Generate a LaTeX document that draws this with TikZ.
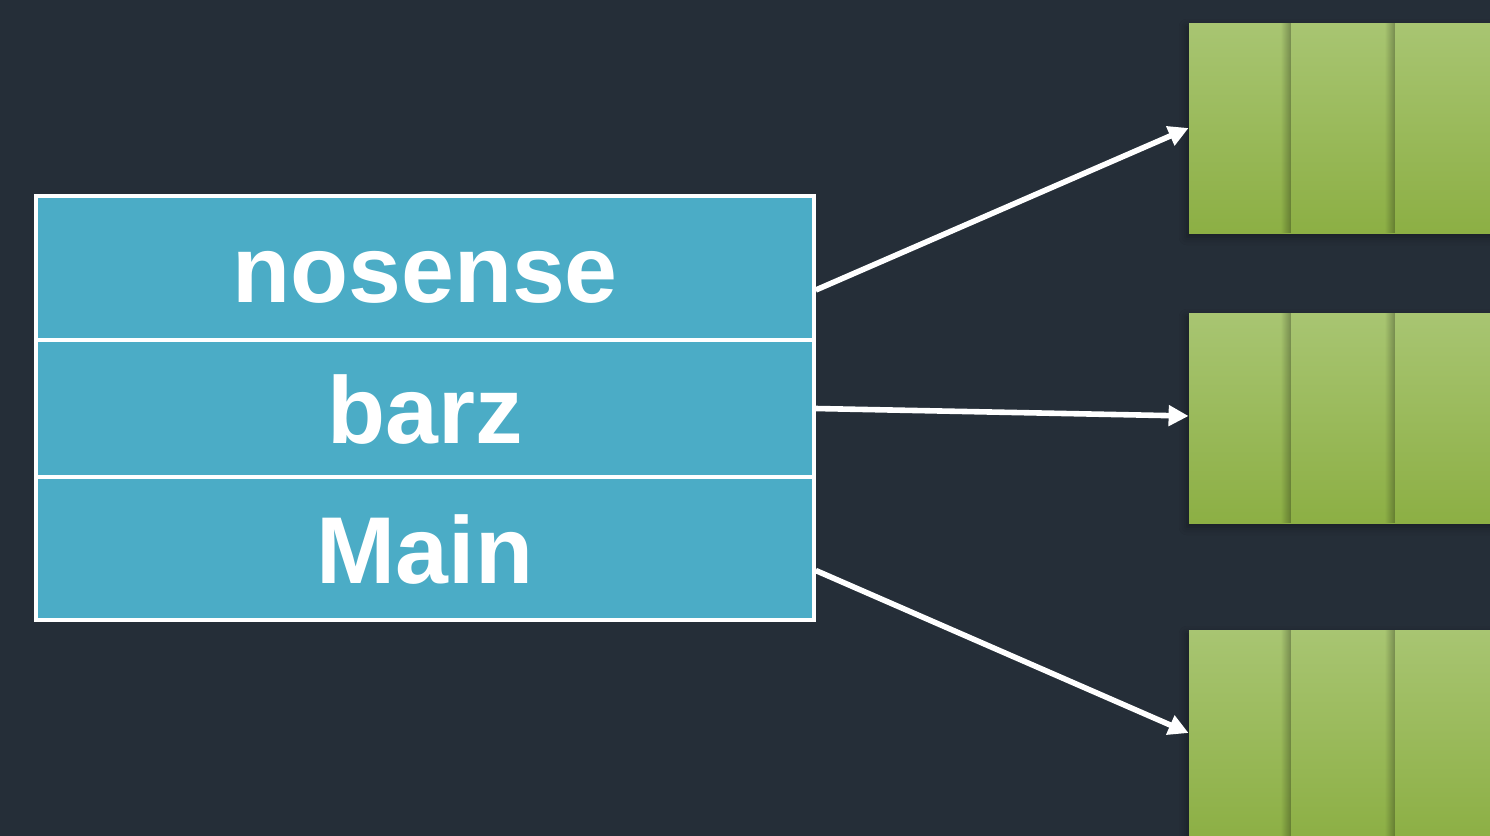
\documentclass[tikz,border=0pt]{standalone}
\usepackage{fontspec}
\setmainfont{Liberation Sans}
\usetikzlibrary{arrows.meta,fadings,shadows.blur}
\definecolor{bg}{HTML}{252E38}
\definecolor{rowblue}{HTML}{4BACC6}
\definecolor{gtop}{HTML}{A8C572}
\definecolor{gbot}{HTML}{8CAF44}
\tikzset{
  rowbox/.style={draw=white, line width=1.8pt, fill=rowblue, minimum width=389pt,
    text=white, font=\fontsize{47.5}{50}\selectfont\bfseries, inner sep=0pt,
    text height=34.5pt, text depth=0pt},
  gbox/.style={draw=none, top color=gtop, bottom color=gbot, minimum width=155pt,
    minimum height=105pt, inner sep=0pt,
    blur shadow={shadow xshift=-1pt, shadow yshift=-2pt, shadow blur radius=4pt, shadow opacity=35}},
  divshade/.style={fill=black, fill opacity=0.28, path fading=west},
  conn/.style={draw=white, line width=2.8pt, -{Triangle[length=10pt,width=10pt]}}
}
\begin{document}
\begin{tikzpicture}[x=0.5pt,y=-0.5pt]
\useasboundingbox (0,0) rectangle (1490,836);
\clip (0,0) rectangle (1490,836);
\fill[bg] (0,0) rectangle (1490,836);

% green boxes
\foreach \n/\cy in {g1/128, g2/418, g3/735}{
  \node[gbox] (\n) at (1344,\cy) {};
  \foreach \dx in {102,206}{
    \fill[divshade] ([xshift=\dx*0.5pt-5pt]\n.north west) rectangle ([xshift=\dx*0.5pt]\n.south west);
  }
}

% table rows
\node[rowbox, minimum height=72pt] (r1) at (425,268) {nosense};
\node[rowbox, minimum height=68.5pt] (r2) at (425,408.5) {barz};
\node[rowbox, minimum height=71.5pt] (r3) at (425,548.5) {Main};

% connectors
\draw[conn] ([yshift=-11pt]r1.east) -- (g1.west);
\draw[conn] (r2.east) -- ([yshift=1pt]g2.west);
\draw[conn] ([yshift=-11pt]r3.east) -- ([yshift=1pt]g3.west);
\end{tikzpicture}
\end{document}
